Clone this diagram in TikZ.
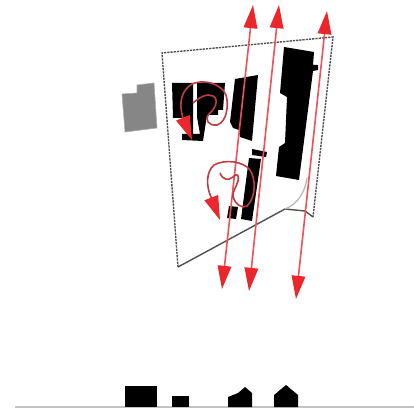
\documentclass[tikz,border=0pt]{standalone}
\usepackage{tikz}
\usetikzlibrary{arrows.meta}
\definecolor{sitered}{RGB}{235,38,44}
\definecolor{sitegray}{RGB}{134,134,134}
\definecolor{siteline}{RGB}{80,80,80}
\tikzset{
  bldg/.style={fill=black, draw=none},
  neighbour/.style={fill=sitegray, draw=sitegray!70},
  dashline/.style={draw=siteline, dash pattern=on 1.6pt off 0.7pt, line width=0.35mm},
  edgeline/.style={draw=siteline, line width=0.35mm},
  windarr/.style={{Triangle[length=5.8mm,width=3.4mm,fill=sitered,color=sitered]}-{Triangle[length=5.8mm,width=3.4mm,fill=sitered,color=sitered]}, sitered!80, line width=0.4mm},
  swirl/.style={-{Triangle[length=6mm,width=3.6mm,fill=sitered,color=sitered]}, sitered!75!black!85, line width=0.4mm}
}
\begin{document}
\begin{tikzpicture}[x=0.25mm,y=-0.25mm]
  \useasboundingbox (0,0) rectangle (414,412);
  \fill[white] (0,0) rectangle (414,412);
  % neighbour
  \path[neighbour] (122,94) -- (137,93) -- (137,85) -- (154,83) -- (157,128) -- (125,132) -- cycle;
  % plan
  \path[bldg] (172,83) -- (193,83) -- (193,134) -- (200,134) -- (197,117) -- (197,83) -- (225,83) -- (223,110) -- (218,110) -- (218,115) -- (207,115) -- (203,141) -- (182,140) -- (182,134) -- (188,134) -- (188,118) -- (173,118) -- cycle;
  \path[bldg] (235,79) -- (258,75) -- (252,141) -- (240,137) -- (239,130) -- (233,128) -- (230,122) -- cycle;
  \path[bldg] (284,47) -- (314,52) -- (313,65) -- (318,65) -- (318,70) -- (313,71) -- (299,180) -- (276,176) -- (279,147) -- (285,143) -- (287,97) -- (280,93) -- cycle;
  \path[bldg] (252,149) -- (267,152) -- (266,157) -- (252,155) -- cycle;
  \path[bldg] (249,158) -- (261,159) -- (252,221) -- (241,219) -- cycle;
  \path[bldg] (229,206) -- (238,207) -- (236,219) -- (227,218) -- cycle;
  % site
  \draw[dashline] (178,267) -- (162,53) -- (333,37) -- (313,217);
  \draw[edgeline] (178,267) -- (285,209) -- (305,211) -- (313,217);
  \draw[sitegray!60, line width=0.3mm] (285,209) .. controls (298,204) and (305,192) .. (307,178);
  % wind
  \draw[windarr] (222,289) -- (253,5);
  \draw[windarr] (249,291) -- (279,5);
  \draw[windarr] (296,299) -- (327,11);
  \draw[swirl] (193,103) .. controls (200,97) and (207,93) .. (213,96)
    .. controls (220,100) and (214,110) .. (209,114)
    .. controls (204,120) and (209,126) .. (217,125)
    .. controls (227,122) and (229,105) .. (226,95)
    .. controls (221,83) and (203,79) .. (192,84)
    .. controls (182,90) and (178,102) .. (183,118) -- (192,140);
  \draw[swirl] (220,173) .. controls (223,180) and (228,181) .. (233,177)
    .. controls (238,172) and (239,176) .. (238,181)
    .. controls (236,188) and (232,192) .. (233,197)
    .. controls (235,204) and (242,209) .. (247,206)
    .. controls (256,198) and (256,178) .. (250,170)
    .. controls (243,161) and (225,159) .. (214,165)
    .. controls (206,172) and (206,186) .. (211,197) -- (220,220);
  % section
  \draw[sitegray!50, line width=0.3mm] (15,407) -- (414,407);
  \path[bldg] (125,386) rectangle (157,407);
  \path[bldg] (172,396) rectangle (189,407);
  \path[bldg] (228,397) -- (238,393) -- (245,387) -- (252,393) -- (252,407) -- (228,407) -- cycle;
  \path[bldg] (274,395) -- (286,385) -- (298,395) -- (298,407) -- (274,407) -- cycle;
\end{tikzpicture}
\end{document}
